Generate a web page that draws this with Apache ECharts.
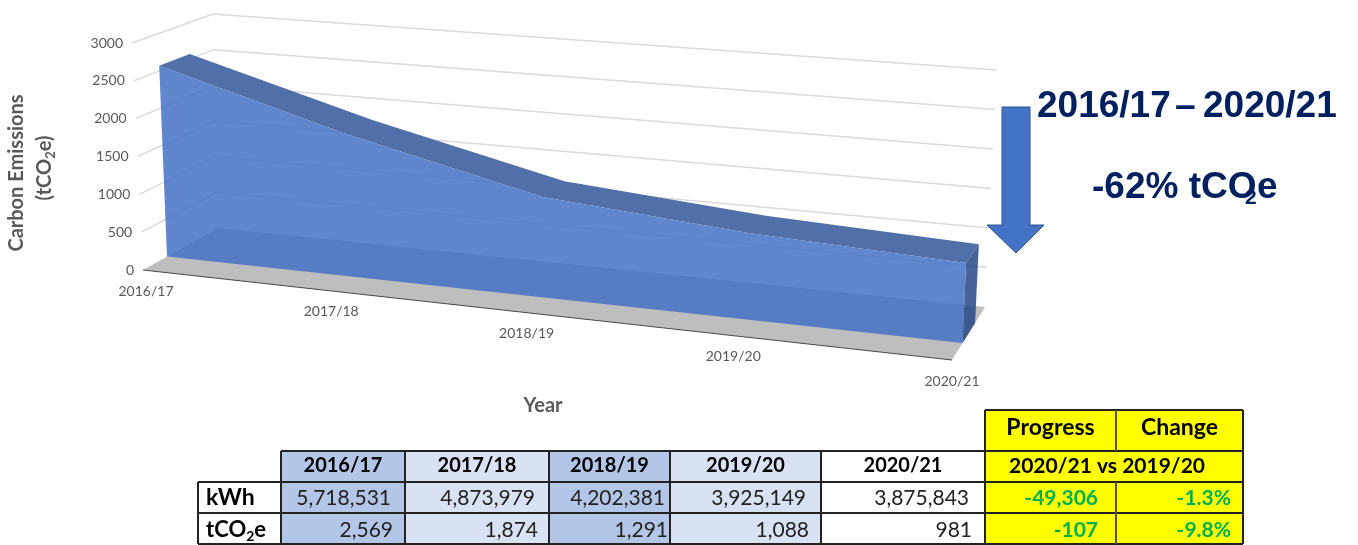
<!DOCTYPE html>
<html>
<head>
<meta charset="utf-8">
<title>Carbon Emissions</title>
<script src="https://cdn.jsdelivr.net/npm/echarts@6/dist/echarts.min.js"></script>
<style>
html, body { margin: 0; padding: 0; background: #fff; }
#main { width: 1358px; height: 545px; }
</style>
</head>
<body>
<div id="main"></div>
<script>
const years = ['2016/17', '2017/18', '2018/19', '2019/20', '2020/21']
const tco2Values = [2569, 1874, 1291, 1088, 981]
const kwhValues = [5718531, 4873979, 4202381, 3925149, 3875843]
const yTicks = [0, 500, 1000, 1500, 2000, 2500, 3000]
const progressLabels = ['Progress', 'Change']
const progressPeriod = '2020/21 vs 2019/20'
const kwhProgress = ['-49,306', '-1.3%']
const tco2Progress = ['-107', '-9.8%']

const FONT = 'Lato, "Noto Sans", sans-serif'
const GREY = '#595959'

// flat grid that holds the axes; every point is then projected onto the 3D box
const GRID = { left: 100, top: 100, width: 800, height: 300 }
const BOX = {
  fl0: [143, 270], fr0: [952, 360], bl0: [218, 228], br0: [985, 307],
  fl1: [132, 43], fr1: [962, 112], bl1: [213, 14], br1: [997, 70]
}
const PERSPECTIVE = 1.117
const AREA_FRONT = 0.32
const AREA_BACK = 0.70

const mix = (a, b, t) => [a[0] + (b[0] - a[0]) * t, a[1] + (b[1] - a[1]) * t]

const project = (p, z) => {
  const t = (p[0] - GRID.left) / GRID.width
  const h = (GRID.top + GRID.height - p[1]) / GRID.height
  const u = t / (t + PERSPECTIVE * (1 - t))
  const front = mix(mix(BOX.fl0, BOX.fr0, u), mix(BOX.fl1, BOX.fr1, u), h)
  const back = mix(mix(BOX.bl0, BOX.br0, u), mix(BOX.bl1, BOX.br1, u), h)
  return mix(front, back, z)
}

const poly = (points, fill, extra) => ({
  type: 'polygon', shape: { points }, style: Object.assign({ fill }, extra || {})
})

const renderChart = (params, api) => {
  if (params.dataIndex !== 0) return null
  const last = years.length - 1
  const at = (i, v, z) => project(api.coord([i, v]), z)
  const children = []

  // floor
  children.push(poly([at(0, 0, 0), at(last, 0, 0), at(last, 0, 1), at(0, 0, 1)], '#BEBEBE'))
  children.push({
    type: 'line',
    shape: { x1: at(0, 0, 0)[0], y1: at(0, 0, 0)[1], x2: at(last, 0, 0)[0], y2: at(last, 0, 0)[1] },
    style: { stroke: '#4a4a4a', lineWidth: 1.2 }
  })

  // gridlines on the two walls
  yTicks.forEach(v => {
    if (v > 0) {
      children.push({
        type: 'polyline',
        shape: { points: [at(0, v, 0), at(0, v, 1), at(last, v, 1)] },
        style: { stroke: '#DADADA', lineWidth: 1.5, fill: null }
      })
    }
    const p = at(0, v, 0)
    children.push({
      type: 'text',
      style: { text: String(v), x: p[0] - 9, y: p[1], align: 'right', verticalAlign: 'middle', fill: GREY, font: '14px ' + FONT }
    })
  })

  // area: top surface, end face, then the see-through front
  const topFace = []
  const front = []
  tco2Values.forEach((v, i) => {
    topFace.push(at(i, v, AREA_FRONT))
    front.push(at(i, v, AREA_FRONT))
  })
  for (let i = last; i >= 0; i--) topFace.push(at(i, tco2Values[i], AREA_BACK))
  front.push(at(last, 0, AREA_FRONT), at(0, 0, AREA_FRONT))
  children.push(poly(topFace, '#516FA9'))
  children.push(poly([
    at(last, 0, AREA_FRONT), at(last, tco2Values[last], AREA_FRONT),
    at(last, tco2Values[last], AREA_BACK), at(last, 0, AREA_BACK)
  ], 'rgba(40,72,135,0.85)'))
  children.push(poly(front, 'rgba(68,114,196,0.85)'))

  // category labels follow the front edge of the floor
  years.forEach((y, i) => {
    const p = at(i, 0, 0)
    children.push({
      type: 'text',
      style: { text: y, x: p[0] + 3 * (last - i) / last, y: p[1] + 21, align: 'center', verticalAlign: 'middle', fill: GREY, font: '14px ' + FONT }
    })
  })
  return { type: 'group', children }
}

// table layout
const colX = [198, 281, 405, 549, 670, 821, 985, 1116, 1243]
const rowY = [410, 451, 482, 513, 544]
const colFill = ['#B4C6E7', '#D9E2F3', '#B4C6E7', '#D9E2F3', '#FFFFFF']
const valueRight = [391, 535, 665, 806, 969]
const tco2Right = [393, 538, 668, 809, 972]
const progressRight = [1098, 1231]
const LINE = '#222222'
const YELLOW = '#FFFF00'
const GREEN = '#00B050'

const rect = (x, y, w, h, fill) => ({ type: 'rect', shape: { x, y, width: w, height: h }, style: { fill }, silent: true })
const seg = (x1, y1, x2, y2, stroke) => ({
  type: 'line', shape: { x1, y1, x2, y2 }, style: { stroke: stroke || LINE, lineWidth: 2 }, silent: true
})
const txt = (text, x, y, align, size, bold, fill) => ({
  type: 'text', silent: true,
  style: { text, x, y, align, verticalAlign: 'middle', fill: fill || '#000', font: (bold ? 'bold ' : '') + size + 'px ' + FONT }
})
const fmt = v => v.toLocaleString('en-US')

const buildTable = () => {
  const g = []
  // fills
  years.forEach((y, i) => {
    g.push(rect(colX[i + 1], rowY[1], colX[i + 2] - colX[i + 1], rowY[4] - rowY[1], colFill[i]))
  })
  g.push(rect(colX[6], rowY[0], colX[8] - colX[6], rowY[4] - rowY[0], YELLOW))
  // grid
  for (let r = 1; r <= 4; r++) g.push(seg(colX[r === 1 ? 1 : 0], rowY[r], colX[8], rowY[r]))
  g.push(seg(colX[6], rowY[0], colX[8], rowY[0]))
  g.push(seg(colX[0], rowY[2], colX[0], rowY[4]))
  for (let c = 1; c <= 5; c++) g.push(seg(colX[c], rowY[1], colX[c], rowY[4]))
  g.push(seg(colX[6], rowY[0], colX[6], rowY[4]))
  g.push(seg(colX[8], rowY[0], colX[8], rowY[4]))
  g.push(seg(colX[7], rowY[0], colX[7], rowY[1], '#55551a'))
  g.push(seg(colX[7], rowY[2], colX[7], rowY[4], '#55551a'))
  // text
  years.forEach((y, i) => {
    g.push(txt(y, (colX[i + 1] + colX[i + 2]) / 2, 466, 'center', 20, true))
    g.push(txt(fmt(kwhValues[i]), valueRight[i], 498, 'right', 21, false, '#222'))
    g.push(txt(fmt(tco2Values[i]), tco2Right[i], 530, 'right', 21, false, '#222'))
  })
  g.push(txt('kWh', 206, 498, 'left', 23, true))
  g.push({
    type: 'text', silent: true,
    style: {
      text: '{a|tCO}{s|2}{a|e}', x: 206, y: 530, align: 'left', verticalAlign: 'middle',
      rich: {
        a: { font: 'bold 22px ' + FONT, fill: '#000', lineHeight: 26, verticalAlign: 'middle' },
        s: { font: 'bold 14px ' + FONT, fill: '#000', lineHeight: 26, verticalAlign: 'bottom' }
      }
    }
  })
  g.push(txt(progressLabels[0], (colX[6] + colX[7]) / 2, 428, 'center', 23, true))
  g.push(txt(progressLabels[1], (colX[7] + colX[8]) / 2, 428, 'center', 23, true))
  g.push(txt(progressPeriod, 1107, 466, 'center', 21, true))
  kwhProgress.forEach((t, i) => g.push(txt(t, progressRight[i], 498, 'right', 21, true, GREEN)))
  tco2Progress.forEach((t, i) => g.push(txt(t, progressRight[i], 530, 'right', 21, true, GREEN)))
  return g
}

const buildAnnotations = () => {
  const NAVY = '#002060'
  const big = (text, x, y, size) => ({
    type: 'text', silent: true,
    style: { text, x, y, align: 'left', verticalAlign: 'middle', fill: NAVY, font: 'bold ' + (size || 37) + 'px "Liberation Sans", Arial, sans-serif' }
  })
  return [
    {
      type: 'polygon', silent: true,
      shape: { points: [[1002, 107], [1030, 107], [1030, 225], [1044, 225], [1016, 253], [987, 225], [1002, 225]] },
      style: { fill: '#4472C4', stroke: '#2F528F', lineWidth: 1 }
    },
    big('2016/17', 1037, 107),
    big('–', 1175, 107),
    big('2020/21', 1203, 107),
    big('-62% tCO', 1092, 188),
    big('e', 1257, 188),
    big('2', 1245, 198, 21),
    {
      type: 'text', silent: true, rotation: Math.PI / 2, x: 17, y: 173,
      style: { text: 'Carbon Emissions', align: 'center', verticalAlign: 'middle', fill: GREY, font: 'bold 20px ' + FONT }
    },
    {
      type: 'text', silent: true, rotation: Math.PI / 2, x: 45, y: 168,
      style: {
        text: '{a|(tCO}{s|2}{a|e)}', align: 'center', verticalAlign: 'middle',
        rich: {
          a: { font: 'bold 20px ' + FONT, fill: GREY, lineHeight: 24, verticalAlign: 'middle' },
          s: { font: 'bold 13px ' + FONT, fill: GREY, lineHeight: 24, verticalAlign: 'bottom' }
        }
      }
    },
    txt('Year', 543, 406, 'center', 20, true, GREY)
  ]
}

const chart = echarts.init(document.getElementById('main'), null, { renderer: 'canvas' })
chart.setOption({
  animation: false,
  backgroundColor: '#fff',
  grid: GRID,
  xAxis: { type: 'category', data: years, boundaryGap: false, show: false },
  yAxis: { type: 'value', min: 0, max: 3000, interval: 500, show: false },
  series: [{
    name: 'tCO2e',
    type: 'custom',
    coordinateSystem: 'cartesian2d',
    renderItem: renderChart,
    silent: true,
    clip: false,
    data: tco2Values.map((v, i) => [i, v])
  }],
  graphic: { elements: buildTable().concat(buildAnnotations()) }
})
</script>
</body>
</html>
